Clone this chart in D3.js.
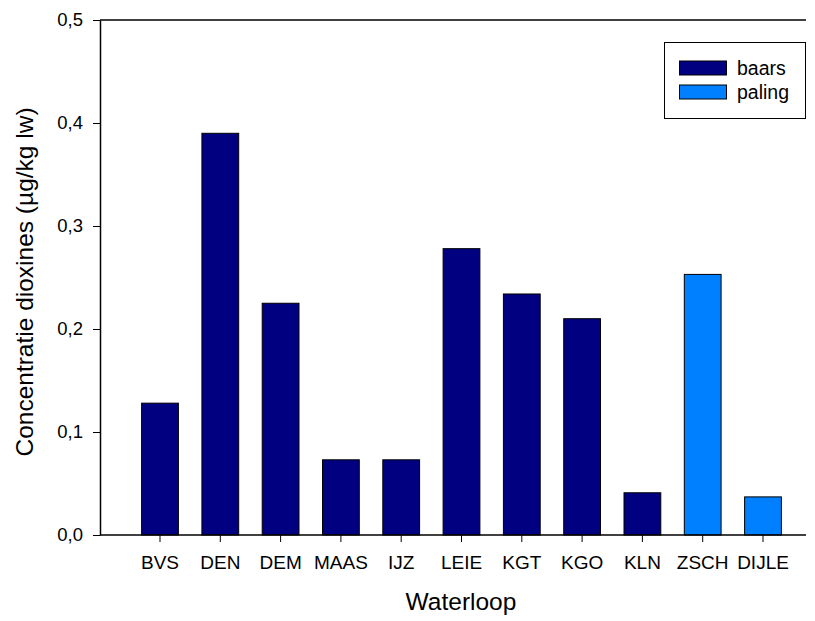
<!DOCTYPE html>
<html>
<head>
<meta charset="utf-8">
<script src="https://cdn.jsdelivr.net/npm/d3@7"></script>
<style>
  body { margin: 0; background: #fff; }
  text { font-family: "Liberation Sans", Arial, sans-serif; fill: #000; }
</style>
</head>
<body>
<div id="chart-container"></div>
<script>
// Waterlopen en meetwaarden
const categories = ["BVS", "DEN", "DEM", "MAAS", "IJZ", "LEIE", "KGT", "KGO", "KLN", "ZSCH", "DIJLE"];
const values = [0.128, 0.390, 0.225, 0.073, 0.073, 0.278, 0.234, 0.210, 0.041, 0.253, 0.037];
const species = ["baars", "baars", "baars", "baars", "baars", "baars", "baars", "baars", "baars", "paling", "paling"];
const yTicks = [0, 0.1, 0.2, 0.3, 0.4, 0.5];
const seriesNames = ["baars", "paling"];
const seriesColors = ["#000080", "#0080ff"];

const data = categories.map((c, i) => ({ name: c, value: values[i], species: species[i] }));

const width = 815, height = 621;
const plotLeft = 100, plotRight = 806, plotTop = 20, plotBottom = 535;

const svg = d3.select("#chart-container")
    .append("svg")
    .attr("width", width)
    .attr("height", height);

// schalen
const x = d3.scaleBand()
    .domain(categories)
    .range([129.85, 793.15])
    .paddingInner(0.39)
    .paddingOuter(0.195);

const y = d3.scaleLinear()
    .domain([0, 0.5])
    .range([plotBottom, plotTop]);

const color = d3.scaleOrdinal()
    .domain(seriesNames)
    .range(seriesColors);

const fmt = d => d3.format(".1f")(d).replace(".", ",");

// staven
svg.selectAll(".bar")
    .data(data)
    .enter().append("rect")
    .attr("class", "bar")
    .attr("x", d => x(d.name))
    .attr("width", x.bandwidth())
    .attr("y", d => y(d.value))
    .attr("height", d => y(0) - y(d.value))
    .attr("fill", d => color(d.species))
    .attr("stroke", "#000")
    .attr("stroke-width", 1);

// bovenrand
svg.append("line")
    .attr("x1", plotLeft).attr("x2", plotRight)
    .attr("y1", plotTop).attr("y2", plotTop)
    .attr("stroke", "#000").attr("stroke-width", 1.5);

// y-as
const yAxis = svg.append("g")
    .attr("transform", "translate(" + plotLeft + ",0)")
    .call(d3.axisLeft(y).tickValues(yTicks).tickFormat(fmt).tickSize(7).tickSizeOuter(0).tickPadding(10));
yAxis.select(".domain").attr("stroke-width", 1.5);
yAxis.selectAll("text").style("font-size", "18.5px").attr("font-family", null);

// x-as
const xAxis = svg.append("g")
    .attr("transform", "translate(0," + plotBottom + ")")
    .call(d3.axisBottom(x).tickSize(7).tickSizeOuter(0).tickPadding(14));
xAxis.select(".domain").attr("d", "M" + plotLeft + ",0H" + plotRight).attr("stroke-width", 1.5);
xAxis.selectAll("text").style("font-size", "19px").attr("font-family", null);

// astitels
svg.append("text")
    .attr("x", 461)
    .attr("y", 610)
    .attr("text-anchor", "middle")
    .style("font-size", "24.5px")
    .text("Waterloop");

svg.append("text")
    .attr("transform", "translate(33,282) rotate(-90)")
    .attr("text-anchor", "middle")
    .style("font-size", "24.5px")
    .text("Concentratie dioxines (µg/kg lw)");

// legende
const legend = svg.append("g");
legend.append("rect")
    .attr("x", 664.5).attr("y", 42.5)
    .attr("width", 141).attr("height", 76)
    .attr("fill", "#fff").attr("stroke", "#000").attr("stroke-width", 1);

legend.selectAll(".item")
    .data(seriesNames)
    .enter().append("rect")
    .attr("x", 679.5)
    .attr("y", (d, i) => 61 + i * 24)
    .attr("width", 47).attr("height", 14)
    .attr("fill", d => color(d))
    .attr("stroke", "#000");

legend.selectAll(".label")
    .data(seriesNames)
    .enter().append("text")
    .attr("x", 737)
    .attr("y", (d, i) => 75 + i * 24)
    .style("font-size", "19.5px")
    .text(d => d);
</script>
</body>
</html>
